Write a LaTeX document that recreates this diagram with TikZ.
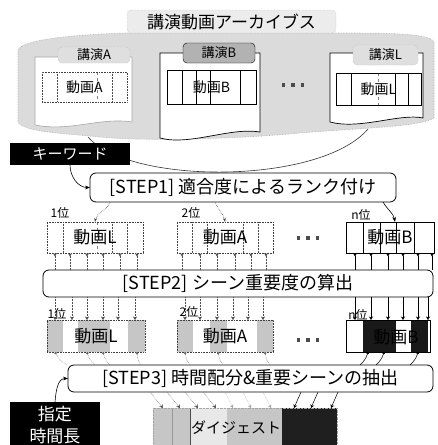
\documentclass[tikz,border=0pt]{standalone}
\usepackage{fontspec}
\setmainfont{Noto Sans CJK JP}
\usetikzlibrary{arrows.meta,calc}
\begin{document}
\begin{tikzpicture}[x=1pt,y=-1pt,
  every node/.style={inner sep=0pt, outer sep=0pt},
  stepbox/.style={draw, line width=0.8pt, rounded corners=6pt, fill=white, font=\fontsize{18}{20}\selectfont},
  tabbox/.style={draw=gray!70, densely dotted, rounded corners=4pt, fill=gray!25, font=\fontsize{13}{15}\selectfont},
  filmdot/.style={draw=black!75, densely dotted, line width=0.6pt},
  filmsolid/.style={draw=black, line width=0.6pt},
  midtxt/.style={font=\fontsize{14}{16}\selectfont},
  bigtxt/.style={font=\fontsize{17}{20}\selectfont},
  ranktxt/.style={font=\fontsize{12}{14}\selectfont},
  blackbox/.style={fill=black, text=white},
  divdot/.style={densely dotted, black!70, line width=0.5pt},
  divsolid/.style={black, line width=0.5pt},
  uptickdot/.style={densely dotted, black!70, line width=0.5pt, {Stealth[reversed,length=3.5pt,width=4pt]}-},
  upticksolid/.style={black, line width=0.5pt, {Stealth[reversed,length=3.5pt,width=4pt]}-},
  downdot/.style={densely dotted, black!70, line width=0.5pt, -{Stealth[length=3.5pt,width=4pt]}},
  downsolid/.style={black, line width=0.5pt, -{Stealth[length=3.5pt,width=4pt]}},
  linkdot/.style={densely dotted, black!60, line width=0.5pt, {Circle[length=2.5pt]}-},
  linksolid/.style={black, line width=0.5pt, {Circle[length=2.5pt]}-},
  shade/.style={fill=gray!45},
]
\useasboundingbox (0,0) rectangle (437,445);

% ---------- archive band ----------
\path[fill=gray!28, draw=gray!65, densely dotted, line width=0.6pt]
  (18,50) .. controls (22,38) and (90,34) .. (127,33) -- (336,33)
  .. controls (385,33) and (430,33) .. (434,42) -- (434,118)
  .. controls (420,127) and (360,128) .. (300,133)
  .. controls (250,138) and (150,142) .. (100,137)
  .. controls (60,133) and (24,132) .. (18,122) -- cycle;
\node[tabbox, fill=gray!15, minimum width=209pt, minimum height=23pt, font=\fontsize{17}{20}\selectfont] (title) at (231.5,21.5) {講演動画アーカイブス};

% cards
\draw[fill=white, draw=gray!70, line width=0.6pt] (35,57) -- (132,57) -- (132,122) .. controls (100,117) and (70,132) .. (35,125) -- cycle;
\draw[fill=white, line width=0.7pt] (160,53) -- (260,53) -- (260,132) .. controls (230,127) and (190,146) .. (160,138) -- cycle;
\draw[fill=white, line width=0.7pt] (330,53) -- (423,53) -- (423,118) .. controls (400,113) and (360,130) .. (330,122) -- cycle;

\node[tabbox, minimum width=72pt, minimum height=16pt] (tabA) at (94,55) {講演A};
\node[tabbox, fill=gray!60, draw=black, solid, minimum width=72pt, minimum height=20pt] (tabB) at (219,53) {講演B};
\node[tabbox, minimum width=65pt, minimum height=20pt] (tabL) at (385.5,55) {講演L};

% archive strips
\foreach \x in {57,112} \draw[divdot] (\x,72) -- (\x,102);
\draw[dashed, gray, line width=0.5pt] (97,72) -- (97,102);
\node[filmdot, minimum width=85pt, minimum height=30pt, midtxt] (sA) at (84.5,87) {動画A};
\foreach \x in {182,196,210,240} \draw[divsolid] (\x,70) -- (\x,104);
\node[filmsolid, minimum width=89pt, minimum height=34pt, midtxt] (sB) at (211.5,87) {動画B};
\foreach \x in {351,395,408} \draw[divsolid] (\x,73) -- (\x,105);
\draw[dashed, gray, line width=0.5pt] (378,73) -- (378,105);
\node[filmsolid, minimum width=85pt, minimum height=32pt, midtxt] (sL) at (378.5,89) {動画L};
\node[text=black!70] (dots0) at (293,85) {\rule{3.5pt}{3.5pt}\hspace{6pt}\rule{3.5pt}{3.5pt}\hspace{6pt}\rule{3.5pt}{3.5pt}};

% funnel
\draw[line width=0.6pt, black!80] (88,137) .. controls (130,185) and (320,185) .. (368,129);

% ---------- keyword & step1 ----------
\node[blackbox, minimum width=120pt, minimum height=22pt, font=\fontsize{15}{17}\selectfont] (kw) at (70,154) {キーワード};
\node[stepbox, minimum width=306pt, minimum height=29pt] (step1) at (243,187.5) {[STEP1] 適合度によるランク付け};
\draw[-{Stealth[length=5pt]}, line width=0.6pt] (kw.south) to[out=-90,in=180] (step1.west);

% ---------- row 1 ----------
\node[ranktxt] (rk1a) at (60,213) {1位};
\node[ranktxt] (rk2a) at (191,213) {2位};
\node[ranktxt] (rkna) at (361,215) {n位};

\foreach \x in {63,112,127} \draw[divdot] (\x,222) -- (\x,253);
\draw[dashed, gray, line width=0.5pt] (97,222) -- (97,253);
\node[filmdot, minimum width=96pt, minimum height=31pt, bigtxt] (r1a) at (95,237.5) {動画L};
\foreach \x in {192,207,243,258} \draw[divdot] (\x,222) -- (\x,253);
\node[filmdot, minimum width=96pt, minimum height=31pt, bigtxt] (r2a) at (225,237.5) {動画A};
\foreach \x in {363,380,396,414} \draw[divsolid] (\x,222) -- (\x,253);
\node[filmsolid, minimum width=88pt, minimum height=31pt, bigtxt] (rna) at (390,237.5) {動画B};
\node[text=black!70] (dots1) at (308,238) {\rule{3.5pt}{3.5pt}\hspace{6pt}\rule{3.5pt}{3.5pt}\hspace{6pt}\rule{3.5pt}{3.5pt}};

\draw[densely dotted, black!70, line width=0.6pt, -{Stealth[length=4pt]}] ([xshift=20pt]step1.south west) to[out=-110,in=80] (r1a.north);
\draw[densely dotted, black!70, line width=0.6pt, -{Stealth[length=4pt]}] ([xshift=125pt]step1.south west) to[out=-70,in=100] (r2a.north);
\draw[line width=0.6pt, -{Stealth[length=5pt]}] ([xshift=293pt]step1.south west) to[out=-60,in=100] ([xshift=5pt]rna.north);

% ---------- step2 ----------
\node[stepbox, minimum width=390pt, minimum height=27pt] (step2) at (238,283.5) {[STEP2] シーン重要度の算出};

\foreach \d in {8,23,40,56,73,90}{
  \path (r1a.south west) ++(\d,0) coordinate (a);
  \draw[uptickdot] (a) -- (a |- step2.north);
}
\foreach \d in {5,23,40,58,74,89}{
  \path (r2a.south west) ++(\d,0) coordinate (a);
  \draw[uptickdot] (a) -- (a |- step2.north);
}
\foreach \d in {9,25,42,57,72,86}{
  \path (rna.south west) ++(\d,0) coordinate (a);
  \draw[upticksolid] (a) -- (a |- step2.north);
}

% ---------- row 2 ----------
\node[ranktxt] (rk1b) at (57,314) {1位};
\node[ranktxt] (rk2b) at (189,312) {2位};
\node[ranktxt] (rknb) at (358,315) {n位};

\fill[shade] (47,320) rectangle (63,352);
\fill[shade] (78,320) rectangle (110,352);
\fill[shade] (128,320) rectangle (145,352);
\node[filmdot, minimum width=98pt, minimum height=32pt, bigtxt] (r1b) at (96,336) {動画L};

\fill[shade] (177,320) rectangle (193,352);
\fill[shade] (210,320) rectangle (227,352);
\fill[shade] (257,320) rectangle (273,352);
\node[filmdot, minimum width=96pt, minimum height=32pt, bigtxt] (r2b) at (225,336) {動画A};

\fill[black!90] (363,320) rectangle (396,352);
\fill[black!90] (411,320) rectangle (428,352);
\node[filmsolid, minimum width=84pt, minimum height=32pt] (rnb) at (388,336) {};
\node[bigtxt] (rnbt) at (396,337) {動画B};
\node[text=black!70] (dots2) at (308,340) {\rule{3.5pt}{3.5pt}\hspace{6pt}\rule{3.5pt}{3.5pt}\hspace{6pt}\rule{3.5pt}{3.5pt}};

\foreach \d in {8,25,40,56,71,88}{
  \path (r1b.north west) ++(\d,0) coordinate (a);
  \draw[downdot] (a |- step2.south) -- (a);
}
\foreach \d in {8,23,40,56,71,86}{
  \path (r2b.north west) ++(\d,0) coordinate (a);
  \draw[downdot] (a |- step2.south) -- (a);
}
\foreach \d in {9,25,42,57,72,82}{
  \path (rnb.north west) ++(\d,0) coordinate (a);
  \draw[downsolid] (a |- step2.south) -- (a);
}

% ---------- step3 ----------
\node[stepbox, minimum width=365pt, minimum height=27pt] (step3) at (250.5,378.5) {[STEP3] 時間配分\&重要シーンの抽出};

\foreach \d/\e in {8/12,40/8,56/7,90/4}{
  \path (r1b.south west) ++(\d,0) coordinate (a) ++(\e,0) coordinate (b);
  \draw[linkdot] (a) to[bend right=15] (b |- step3.north);
}
\foreach \d/\e in {8/5,41/5,88/5}{
  \path (r2b.south west) ++(\d,0) coordinate (a) ++(\e,0) coordinate (b);
  \draw[linkdot] (a) to[bend right=15] (b |- step3.north);
}
\foreach \d/\e in {22/-8,38/-8,72/-8}{
  \path (rnb.south west) ++(\d,0) coordinate (a) ++(\e,0) coordinate (b);
  \draw[linksolid] (a) to[bend left=15] (b |- step3.north);
}

% ---------- specified length ----------
\node[blackbox, minimum width=90pt, minimum height=46pt, align=center, font=\fontsize{17}{22}\selectfont] (shitei) at (55,425) {指定\\時間長};
\draw[-{Stealth[length=5pt]}, line width=0.6pt] (shitei.north) to[out=85,in=180] (step3.west);

% ---------- digest ----------
\fill[gray!45] (153,408) rectangle (190,450);
\fill[gray!18] (190,408) rectangle (227,450);
\fill[gray!45] (227,408) rectangle (282,450);
\fill[black!88] (282,408) rectangle (337,450);
\draw[gray!80, line width=0.5pt] (172,408) -- (172,450);
\draw[black!70, line width=0.5pt] (190,408) -- (190,450);
\node[draw=gray!70, densely dotted, minimum width=184pt, minimum height=42pt] (dg) at (245,429) {};
\node[font=\fontsize{15}{17}\selectfont] (dgt) at (236,428) {ダイジェスト};

\foreach \d/\e in {82/13,99/13,117/13,135/13}{
  \path (step3.south west) ++(\d,0) coordinate (a) ++(\e,0) coordinate (b);
  \draw[downdot] (a) -- (b |- dg.north);
}
\foreach \d/\e in {157/8,175/8,195/8}{
  \path (step3.south west) ++(\d,0) coordinate (a) ++(\e,0) coordinate (b);
  \draw[downdot, black!35] (a) -- (b |- dg.north);
}
\foreach \d/\e in {233/-7,250/-7,270/-7}{
  \path (step3.south west) ++(\d,0) coordinate (a) ++(\e,0) coordinate (b);
  \draw[downsolid] (a) -- (b |- dg.north);
}
\end{tikzpicture}
\end{document}
